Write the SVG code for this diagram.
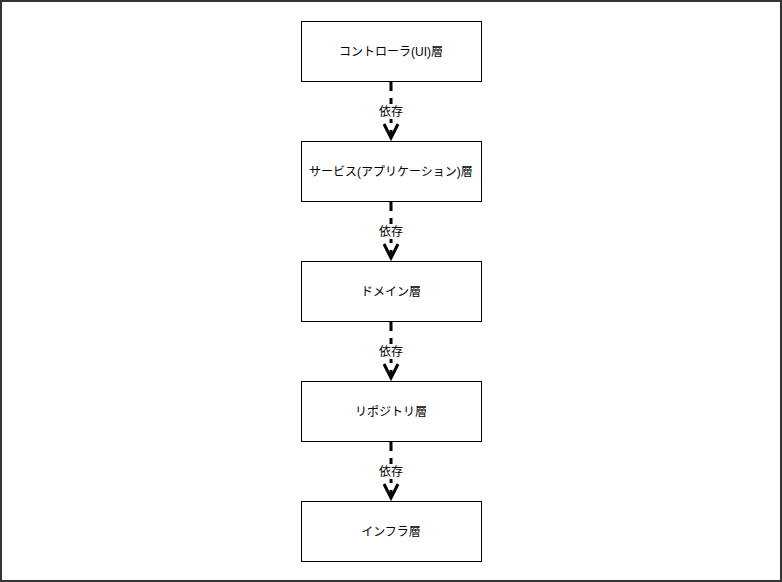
<svg xmlns="http://www.w3.org/2000/svg" width="782" height="582" viewBox="0 0 782 582">
<style>
.box{fill:#fff;stroke:#000;stroke-width:1}
.t{font-family:"Liberation Sans","Noto Sans CJK JP",sans-serif;font-size:12px;fill:#000;text-anchor:middle;dominant-baseline:central}
.e{stroke:#000;stroke-width:3;stroke-dasharray:9 7;fill:none}
.ah{stroke:#000;stroke-width:3;fill:none}
.lb{fill:#fff}
</style>
<rect x="1" y="1" width="780" height="580" fill="#fff" stroke="#333" stroke-width="2"/>
<g id="connectors">
<g><line class="e" x1="391" y1="82" x2="391" y2="138"/><path class="ah" d="M384,124 L391,138 L398,124"/><rect class="lb" x="378" y="104" width="26" height="15"/><text class="t" x="391" y="112">依存</text></g>
<g><line class="e" x1="391" y1="202" x2="391" y2="258"/><path class="ah" d="M384,244 L391,258 L398,244"/><rect class="lb" x="378" y="224" width="26" height="15"/><text class="t" x="391" y="232">依存</text></g>
<g><line class="e" x1="391" y1="322" x2="391" y2="378"/><path class="ah" d="M384,364 L391,378 L398,364"/><rect class="lb" x="378" y="344" width="26" height="15"/><text class="t" x="391" y="352">依存</text></g>
<g><line class="e" x1="391" y1="442" x2="391" y2="498"/><path class="ah" d="M384,484 L391,498 L398,484"/><rect class="lb" x="378" y="464" width="26" height="15"/><text class="t" x="391" y="472">依存</text></g>
</g>
<g id="controller"><rect class="box" x="301.5" y="21.5" width="180" height="60"/><text class="t" x="391" y="52">コントローラ(UI)層</text></g>
<g id="service"><rect class="box" x="301.5" y="141.5" width="180" height="60"/><text class="t" x="391" y="172">サービス(アプリケーション)層</text></g>
<g id="domain"><rect class="box" x="301.5" y="261.5" width="180" height="60"/><text class="t" x="391" y="292">ドメイン層</text></g>
<g id="repository"><rect class="box" x="301.5" y="381.5" width="180" height="60"/><text class="t" x="391" y="412">リポジトリ層</text></g>
<g id="infra"><rect class="box" x="301.5" y="501.5" width="180" height="60"/><text class="t" x="391" y="532">インフラ層</text></g>
</svg>
